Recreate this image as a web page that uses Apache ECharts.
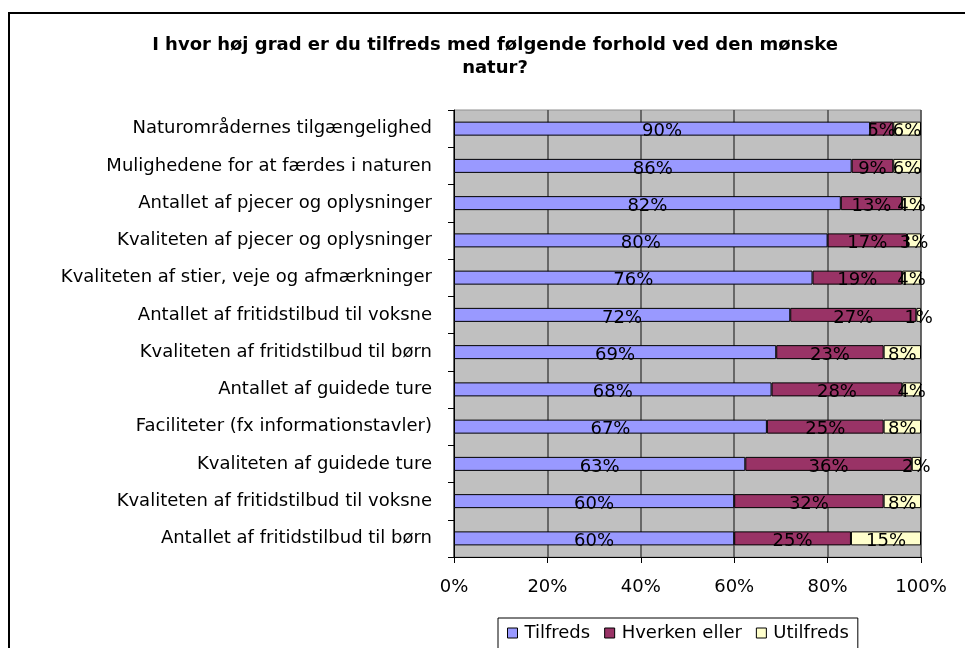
<!DOCTYPE html>
<html>
<head>
<meta charset="utf-8">
<script src="https://cdn.jsdelivr.net/npm/echarts@6/dist/echarts.min.js"></script>
<style>
  html, body { margin: 0; padding: 0; background: #fff; }
  #main { width: 965px; height: 648px; }
</style>
</head>
<body>
<div id="main"></div>
<script>
var categories = [
  'Naturområdernes tilgængelighed',
  'Mulighedene for at færdes i naturen',
  'Antallet af pjecer og oplysninger',
  'Kvaliteten af pjecer og oplysninger',
  'Kvaliteten af stier, veje og afmærkninger',
  'Antallet af fritidstilbud til voksne',
  'Kvaliteten af fritidstilbud til børn',
  'Antallet af guidede ture',
  'Faciliteter (fx informationstavler)',
  'Kvaliteten af guidede ture',
  'Kvaliteten af fritidstilbud til voksne',
  'Antallet af fritidstilbud til børn'
];
var tilfreds = [90, 86, 82, 80, 76, 72, 69, 68, 67, 63, 60, 60];
var hverken = [5, 9, 13, 17, 19, 27, 23, 28, 25, 36, 32, 25];
var utilfreds = [6, 6, 4, 3, 4, 1, 8, 4, 8, 2, 8, 15];
var seriesNames = ['Tilfreds', 'Hverken eller', 'Utilfreds'];
var colors = ['#9999FF', '#993366', '#FFFFCC'];

var FONT = 'DejaVu Sans';

// 100% stacked: scale each row to its total, label with the rounded value
function share(arr) {
  return arr.map(function (v, i) {
    var tot = tilfreds[i] + hverken[i] + utilfreds[i];
    return { value: v / tot * 100, pct: v };
  });
}

var dom = document.getElementById('main');
var myChart = echarts.init(dom);

var series = [tilfreds, hverken, utilfreds].map(function (arr, k) {
  return {
    name: seriesNames[k],
    type: 'bar',
    stack: 'all',
    barWidth: 14,
    data: share(arr),
    itemStyle: {
      color: colors[k],
      borderColor: '#000',
      borderWidth: 1
    },
    label: {
      show: true,
      position: 'inside',
      offset: [0, 3],
      color: '#000',
      fontFamily: FONT,
      fontSize: 18,
      formatter: function (p) { return p.data.pct + '%'; }
    }
  };
});

var option = {
  backgroundColor: '#fff',
  animation: false,
  title: {
    text: 'I hvor høj grad er du tilfreds med følgende forhold ved den mønske\nnatur?',
    left: 490,
    textAlign: 'center',
    top: 29,
    textStyle: {
      fontFamily: FONT,
      fontSize: 18,
      fontWeight: 'bold',
      color: '#000',
      lineHeight: 23
    }
  },
  legend: {
    bottom: -2,
    left: 498,
    itemWidth: 10,
    itemHeight: 10,
    itemGap: 14,
    icon: 'rect',
    padding: [6, 9, 8, 9],
    borderColor: '#000',
    borderWidth: 1,
    textStyle: { fontFamily: FONT, fontSize: 18, color: '#000', padding: [0, 0, 0, 2] },
    data: seriesNames.map(function (n, k) {
      return { name: n, itemStyle: { color: colors[k], borderColor: '#000', borderWidth: 1 } };
    })
  },
  grid: {
    left: 454,
    right: 44,
    top: 110,
    bottom: 91,
    show: true,
    backgroundColor: '#C0C0C0',
    borderColor: '#909090',
    borderWidth: 1
  },
  xAxis: {
    type: 'value',
    min: 0,
    max: 100,
    interval: 20,
    axisLine: { show: true, lineStyle: { color: '#000', width: 1 } },
    axisTick: { show: true, length: 6, lineStyle: { color: '#000' } },
    axisLabel: {
      fontFamily: FONT,
      fontSize: 18,
      color: '#000',
      margin: 21,
      formatter: '{value}%'
    },
    splitLine: { show: true, lineStyle: { color: '#4a4a4a', width: 1.5 } }
  },
  yAxis: {
    type: 'category',
    inverse: true,
    data: categories,
    axisLine: { show: true, lineStyle: { color: '#000', width: 1 } },
    axisTick: { show: true, length: 6, lineStyle: { color: '#000' } },
    axisLabel: {
      fontFamily: FONT,
      fontSize: 18,
      color: '#000',
      margin: 22
    },
    splitLine: { show: false }
  },
  graphic: [{
    type: 'rect',
    shape: { x: 9, y: 13, width: 980, height: 700 },
    style: { fill: 'none', stroke: '#000', lineWidth: 2 },
    silent: true,
    z: 100
  }],
  series: series
};

myChart.setOption(option, true);
</script>
</body>
</html>
